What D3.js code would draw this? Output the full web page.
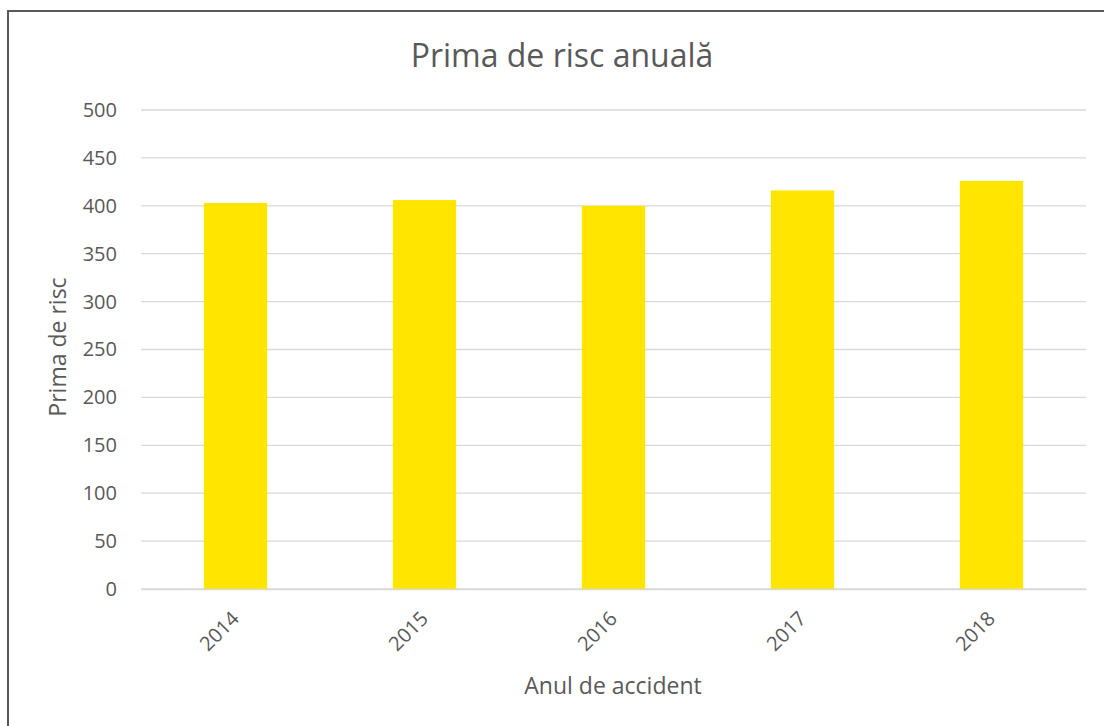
<!DOCTYPE html>
<html>
<head>
<meta charset="utf-8">
<script src="https://cdn.jsdelivr.net/npm/d3@7"></script>
<style>
  body { margin: 0; background: #fff; }
  svg { display: block; }
  text { font-family: "Open Sans", "Noto Sans", sans-serif; fill: #595959; }
</style>
</head>
<body>
<svg id="chart" width="1104" height="726"></svg>
<script>
var years = ["2014", "2015", "2016", "2017", "2018"];
var prima = [403, 406, 400, 416, 426];
var yTicks = [0, 50, 100, 150, 200, 250, 300, 350, 400, 450, 500];

var margin = {top: 110, right: 18, bottom: 137, left: 141};
var width = 1104, height = 726;

var svg = d3.select("#chart");

// outer frame (right/bottom run off the picture)
svg.append("rect")
  .attr("x", 8).attr("y", 11)
  .attr("width", 1110).attr("height", 730)
  .attr("fill", "none")
  .attr("stroke", "#595959")
  .attr("stroke-width", 2);

var x = d3.scaleBand()
  .domain(years)
  .range([margin.left, width - margin.right])
  .paddingInner(0.665)
  .paddingOuter(0.3325);

var y = d3.scaleLinear()
  .domain([0, 500])
  .range([height - margin.bottom, margin.top]);

// gridlines
svg.append("g")
  .selectAll("line")
  .data(yTicks)
  .enter()
  .append("line")
    .attr("x1", margin.left)
    .attr("x2", width - margin.right)
    .attr("y1", d => y(d))
    .attr("y2", d => y(d))
    .attr("stroke", "#d9d9d9")
    .attr("stroke-width", 1.3);

// bars
svg.append("g")
  .selectAll("rect")
  .data(years)
  .enter()
  .append("rect")
    .attr("x", d => x(d))
    .attr("y", (d, i) => y(prima[i]))
    .attr("width", x.bandwidth())
    .attr("height", (d, i) => y(0) - y(prima[i]))
    .attr("fill", "#ffe500");

// y axis
var yAxis = svg.append("g")
  .attr("transform", "translate(" + margin.left + ",0)")
  .call(d3.axisLeft(y).tickValues(yTicks).tickSize(0).tickPadding(24));
yAxis.select(".domain").remove();
yAxis.selectAll("text")
  .style("font-size", "20px")
  .style("fill", "#595959");

// x axis
var xAxis = svg.append("g")
  .attr("transform", "translate(0," + y(0) + ")")
  .call(d3.axisBottom(x).tickSize(0));
xAxis.select(".domain").attr("stroke", "#d9d9d9").attr("stroke-width", 1.3);
xAxis.selectAll("text")
  .style("font-size", "20px")
  .style("fill", "#595959")
  .style("text-anchor", "end")
  .attr("x", 0)
  .attr("y", 0)
  .attr("dy", "0.35em")
  .attr("transform", "translate(0,26) rotate(-45)");

// title
svg.append("text")
  .attr("x", 562)
  .attr("y", 67)
  .attr("text-anchor", "middle")
  .style("font-size", "32px")
  .text("Prima de risc anuală");

// axis titles
svg.append("text")
  .attr("x", 613)
  .attr("y", 694)
  .attr("text-anchor", "middle")
  .style("font-size", "23px")
  .text("Anul de accident");

svg.append("text")
  .attr("transform", "translate(66,347) rotate(-90)")
  .attr("text-anchor", "middle")
  .style("font-size", "23px")
  .text("Prima de risc");
</script>
</body>
</html>
